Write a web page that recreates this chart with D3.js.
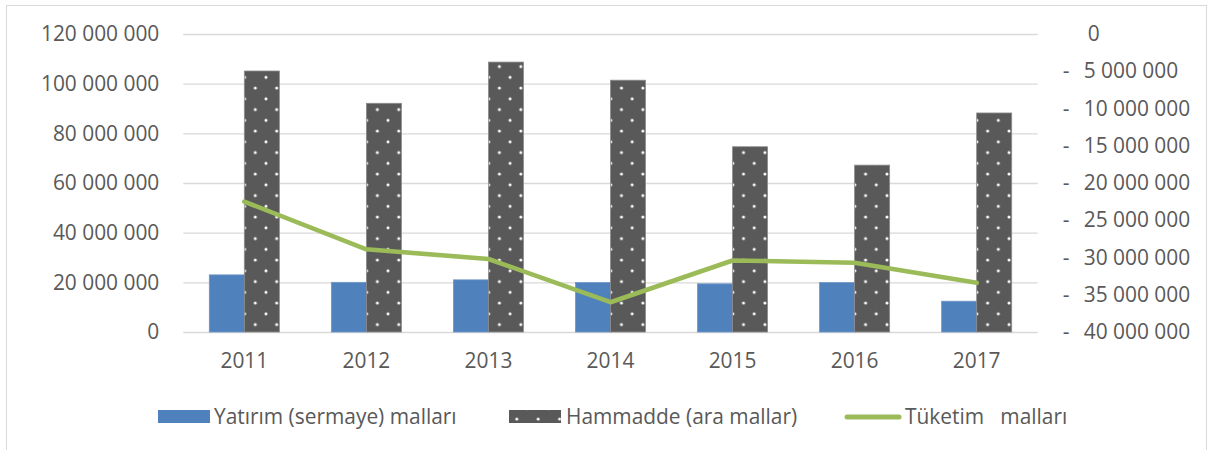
<!DOCTYPE html>
<html>
<head>
<meta charset="utf-8">
<script src="https://cdn.jsdelivr.net/npm/d3@7"></script>
<style>
  html, body { margin: 0; padding: 0; background: #fff; }
  svg text { font-family: "Open Sans", "Noto Sans", sans-serif; fill: #595959; }
</style>
</head>
<body>
<svg id="chart" width="1213" height="450"></svg>
<script>
// ---- data ----
const years = ["2011", "2012", "2013", "2014", "2015", "2016", "2017"];
const seriesNames = ["Yatırım (sermaye) malları", "Hammadde (ara mallar)", "Tüketim   malları"];
const yatirim = [23000000, 20000000, 21000000, 19900000, 19400000, 19900000, 12400000];
const hammadde = [105100000, 92100000, 108700000, 101400000, 74600000, 67200000, 88200000];
const tuketim = [-22500000, -28900000, -30200000, -36000000, -30400000, -30700000, -33400000];
const leftTicks = [0, 20000000, 40000000, 60000000, 80000000, 100000000, 120000000];
const rightTicks = [0, -5000000, -10000000, -15000000, -20000000, -25000000, -30000000, -35000000, -40000000];

const svg = d3.select("#chart");
const plot = { left: 183.3, right: 1037.7, top: 34, bottom: 332 };
const textColor = "#595959";
const FS = 20.9;
const blue = "#4f81bd", dark = "#595959", green = "#9bbb59";

const loc = d3.formatLocale({ decimal: ",", thousands: " ", grouping: [3], currency: ["", ""] });
const fmt = loc.format(",d");

// border
svg.append("rect").attr("x", 6.5).attr("y", 5.5).attr("width", 1200).attr("height", 460)
  .attr("fill", "#fff").attr("stroke", "#d9d9d9").attr("stroke-width", 1);

// pattern
const defs = svg.append("defs");
const pat = defs.append("pattern").attr("id", "dots").attr("patternUnits", "userSpaceOnUse")
  .attr("width", 21.4).attr("height", 21.5).attr("x", 249.3).attr("y", 77.3 - 10.75);
pat.append("rect").attr("width", 21.4).attr("height", 21.5).attr("fill", dark);
[[10.7, 0], [0, 10.75], [21.4, 10.75], [10.7, 21.5]].forEach(([cx, cy]) => {
  pat.append("circle").attr("cx", cx).attr("cy", cy).attr("r", 1.5).attr("fill", "#ffffff");
});

// scales
const x0 = d3.scaleBand().domain(years).range([plot.left, plot.right])
  .paddingInner(0.426).paddingOuter(0.213);
const x1 = d3.scaleBand().domain([0, 1]).range([0, x0.bandwidth()]);
const yL = d3.scaleLinear().domain([0, 120000000]).range([plot.bottom, plot.top]);
const yR = d3.scaleLinear().domain([-40000000, 0]).range([plot.bottom, plot.top]);

// gridlines
const grid = d3.axisLeft(yL).tickValues(leftTicks).tickSize(-(plot.right - plot.left)).tickFormat("");
svg.append("g").attr("transform", `translate(${plot.left},0)`).call(grid)
  .call(g => g.select(".domain").remove())
  .call(g => g.selectAll("line").attr("stroke", "#d9d9d9").attr("stroke-width", 1.3));

// left axis labels
svg.append("g").attr("transform", `translate(${plot.left},0)`)
  .call(d3.axisLeft(yL).tickValues(leftTicks).tickFormat(fmt).tickSize(0).tickPadding(24))
  .call(g => g.select(".domain").remove())
  .call(g => g.selectAll("text").attr("font-size", FS).style("fill", textColor)
    .attr("font-family", "Open Sans"));

// right axis labels
const rAxis = svg.append("g").attr("transform", `translate(${plot.right},0)`)
  .call(d3.axisRight(yR).tickValues(rightTicks).tickFormat(d => fmt(Math.abs(d))).tickSize(0).tickPadding(46))
  .call(g => g.select(".domain").remove());
rAxis.selectAll(".tick").each(function(d) {
  const t = d3.select(this).select("text");
  const num = fmt(Math.abs(d));
  t.text(null).attr("font-size", FS).attr("font-family", "Open Sans").style("fill", textColor)
    .attr("x", 0).attr("text-anchor", "start");
  if (d < 0) {
    t.append("tspan").attr("x", 25).text("-");
    t.append("tspan").attr("x", 46).text(num);
  } else {
    t.append("tspan").attr("x", 50).text(num);
  }
});

// x axis labels
svg.append("g").attr("transform", `translate(0,${plot.bottom})`)
  .call(d3.axisBottom(x0).tickSize(0).tickPadding(21))
  .call(g => g.select(".domain").remove())
  .call(g => g.selectAll("text").attr("font-size", FS).attr("font-family", "Open Sans").style("fill", textColor));

// bars
const rows = years.map((y, i) => ({ year: y, vals: [yatirim[i], hammadde[i]] }));
const groups = svg.append("g").selectAll("g").data(rows).join("g")
  .attr("transform", d => `translate(${x0(d.year)},0)`);
groups.selectAll("rect").data(d => d.vals.map((v, k) => ({ k, v }))).join("rect")
  .attr("x", d => x1(d.k))
  .attr("width", x1.bandwidth())
  .attr("y", d => yL(d.v))
  .attr("height", d => yL(0) - yL(d.v))
  .attr("fill", d => d.k === 0 ? blue : "url(#dots)")
  .attr("stroke", d => d.k === 0 ? "#6f96c8" : "#8c8c8c")
  .attr("stroke-width", 0.8);

// line
const line = d3.line().x((d, i) => x0(years[i]) + x0.bandwidth() / 2).y(d => yR(d));
svg.append("path").datum(tuketim).attr("d", line)
  .attr("fill", "none").attr("stroke", green).attr("stroke-width", 4.6)
  .attr("stroke-linejoin", "round").attr("stroke-linecap", "round");

// legend
const lg = svg.append("g").attr("transform", "translate(0,417)");
lg.append("rect").attr("x", 158).attr("y", -7).attr("width", 52).attr("height", 13).attr("fill", blue);
lg.append("text").attr("x", 214).attr("y", 0).attr("dy", "0.35em").attr("font-size", FS).text(seriesNames[0]);
lg.append("rect").attr("x", 509).attr("y", -7).attr("width", 52).attr("height", 13).attr("fill", "url(#dots)");
lg.append("text").attr("x", 566).attr("y", 0).attr("dy", "0.35em").attr("font-size", FS).text(seriesNames[1]);
lg.append("line").attr("x1", 847).attr("x2", 899).attr("y1", 0).attr("y2", 0)
  .attr("stroke", green).attr("stroke-width", 5).attr("stroke-linecap", "round");
lg.append("text").attr("x", 905).attr("y", 0).attr("dy", "0.35em").attr("font-size", FS)
  .attr("xml:space", "preserve").style("white-space", "pre").text(seriesNames[2]);
</script>
</body>
</html>
